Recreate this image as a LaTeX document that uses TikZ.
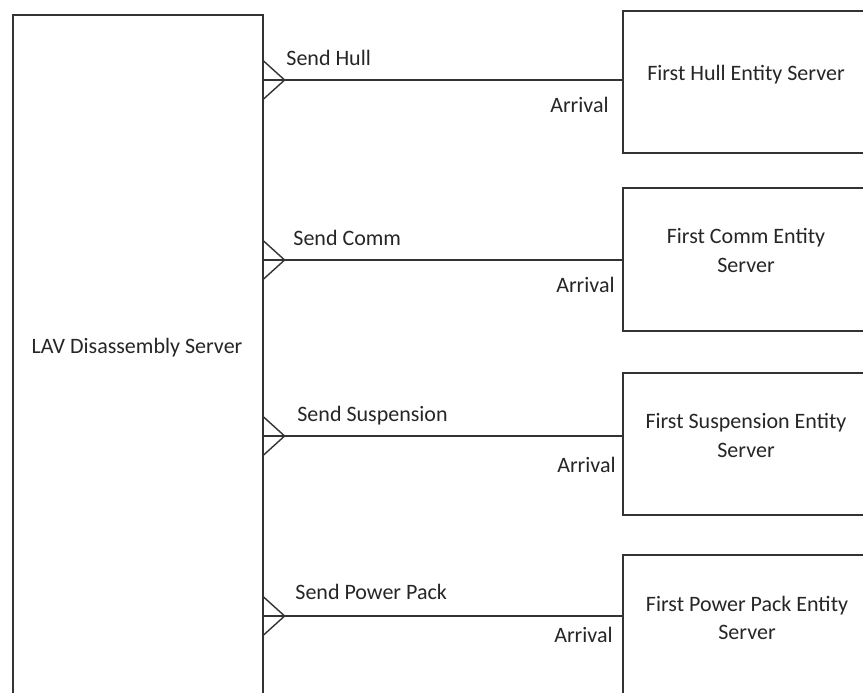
\documentclass[tikz,border=0pt]{standalone}
\usepackage{fontspec}
\setmainfont{Carlito}
\begin{document}
\begin{tikzpicture}[x=0.5pt,y=-0.5pt,
  every node/.style={font=\fontsize{11}{14.5}\selectfont, text=black!85},
  frame/.style={draw=black!80, line width=0.8pt, fill=none, inner sep=0pt},
  link/.style={draw=black!80, line width=0.8pt},
  tip/.style={draw=black!80, line width=0.7pt, line join=miter},
  txt/.style={inner sep=0pt, align=center}]
\clip (0,0) rectangle (863,692);
\fill[white] (0,0) rectangle (863,692);

% main server block (runs past the lower edge)
\node[frame, anchor=north west, minimum width=125pt, minimum height=380pt] (lav) at (12,14) {};
\node[txt, anchor=base] (lavtxt) at (137,353) {LAV Disassembly Server};

% entity servers (run past the right edge)
\node[frame, anchor=north west, minimum width=124pt, minimum height=71pt] (hull) at (622,10) {};
\node[frame, anchor=north west, minimum width=124pt, minimum height=71.5pt] (comm) at (622,187) {};
\node[frame, anchor=north west, minimum width=124pt, minimum height=71pt] (susp) at (622,372) {};
\node[frame, anchor=north west, minimum width=124pt, minimum height=71pt] (power) at (622,554) {};

\node[txt, anchor=base] (hulltxt) at (746,80) {First Hull Entity Server};
\node[txt, anchor=base] (commtxt) at (746,243) {First Comm Entity};
\node[txt, anchor=base] (commtxtb) at (746,272) {Server};
\node[txt, anchor=base] (susptxt) at (746,428) {First Suspension Entity};
\node[txt, anchor=base] (susptxtb) at (746,457) {Server};
\node[txt, anchor=base] (powertxt) at (747,611) {First Power Pack Entity};
\node[txt, anchor=base] (powertxtb) at (747,639) {Server};

% connector start points on the main block
\coordinate (s1) at (lav.east |- 0,80);
\coordinate (s2) at (lav.east |- 0,260);
\coordinate (s3) at (lav.east |- 0,436);
\coordinate (s4) at (lav.east |- 0,616);

\foreach \s/\t in {s1/hull, s2/comm, s3/susp, s4/power}{
  \draw[link] (\s) -- (\s -| \t.west);
  \draw[tip] (\s) +(0,-19) -- +(21,0) -- +(0,19);
}

% connector labels
\node[txt, anchor=base west] (send1) at (286,65) {Send Hull};
\node[txt, anchor=base west] (send2) at (293,245) {Send Comm};
\node[txt, anchor=base west] (send3) at (297,421) {Send Suspension};
\node[txt, anchor=base west] (send4) at (295,599) {Send Power Pack};

\node[txt, anchor=base east] (arr1) at (609,112) {Arrival};
\node[txt, anchor=base east] (arr2) at (615,292) {Arrival};
\node[txt, anchor=base east] (arr3) at (616,472) {Arrival};
\node[txt, anchor=base east] (arr4) at (613,642) {Arrival};
\end{tikzpicture}
\end{document}
